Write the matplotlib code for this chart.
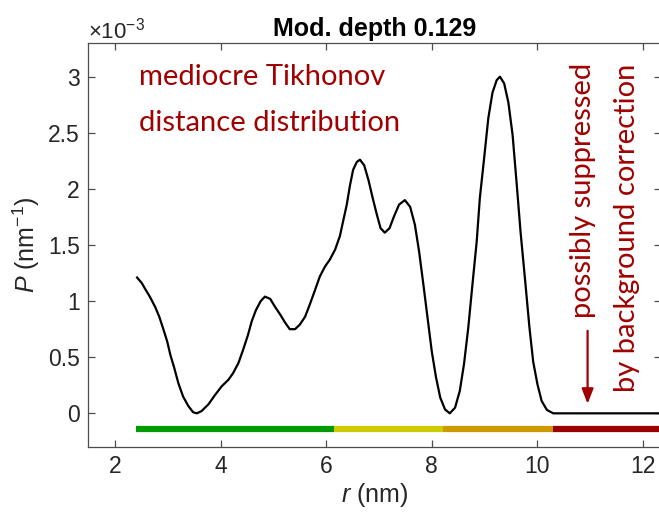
import numpy as np
import matplotlib
matplotlib.use('Agg')
import matplotlib.pyplot as plt

plt.rcParams['mathtext.fontset'] = 'custom'
plt.rcParams['mathtext.rm'] = 'Liberation Sans'
plt.rcParams['mathtext.it'] = 'Liberation Sans:italic'

# distance axis (nm) and Tikhonov distribution P(r), in units of 1e-3 nm^-1
r = [2.42, 2.51, 2.57, 2.66, 2.76, 2.84, 2.91, 2.99, 3.05, 3.12, 3.20, 3.29,
     3.39, 3.48, 3.55, 3.64, 3.77, 3.89, 4.02, 4.15, 4.24, 4.34, 4.43, 4.52,
     4.59, 4.67, 4.76, 4.84, 4.94, 5.03, 5.13, 5.22, 5.31, 5.41, 5.50, 5.60,
     5.69, 5.79, 5.88, 5.98, 6.07, 6.17, 6.26, 6.32, 6.39, 6.45, 6.51, 6.58,
     6.64, 6.72, 6.80, 6.88, 6.96, 7.03, 7.11, 7.20, 7.28, 7.38, 7.49, 7.59,
     7.68, 7.76, 7.84, 7.92, 8.00, 8.08, 8.16, 8.25, 8.34, 8.44, 8.53, 8.61,
     8.69, 8.77, 8.85, 8.91, 8.99, 9.07, 9.15, 9.23, 9.29, 9.37, 9.45, 9.53,
     9.61, 9.68, 9.77, 9.85, 9.92, 10.00, 10.08, 10.18, 10.30, 12.40]
P = [1.21, 1.16, 1.11, 1.04, 0.95, 0.86, 0.76, 0.64, 0.52, 0.41, 0.27, 0.15,
     0.065, 0.01, 0.0, 0.02, 0.08, 0.16, 0.24, 0.30, 0.36, 0.45, 0.57, 0.70,
     0.82, 0.92, 1.00, 1.04, 1.02, 0.95, 0.88, 0.81, 0.75, 0.75, 0.79, 0.86,
     0.97, 1.10, 1.22, 1.31, 1.37, 1.46, 1.58, 1.71, 1.86, 2.03, 2.17, 2.24,
     2.26, 2.21, 2.08, 1.92, 1.77, 1.65, 1.61, 1.65, 1.75, 1.86, 1.90, 1.84,
     1.68, 1.44, 1.15, 0.85, 0.55, 0.32, 0.14, 0.035, 0.0, 0.05, 0.20, 0.44,
     0.76, 1.15, 1.53, 1.92, 2.27, 2.63, 2.86, 2.97, 3.00, 2.94, 2.77, 2.48,
     2.03, 1.62, 1.17, 0.76, 0.46, 0.26, 0.11, 0.03, 0.0, 0.0]

# reliability ranges along the bottom
band_edges = [2.40, 6.15, 8.22, 10.29, 12.40]
band_colors = ['#009900', '#cccc00', '#cc9900', '#990000']
band_y = -0.14

dark_red = '#a00000'

fig = plt.figure(figsize=(6.59, 5.15), dpi=100)
ax = fig.add_axes([88/659, 68/515, 573/659, 404/515])

ax.plot(r, P, color='black', lw=1.6)
for i in range(len(band_colors)):
    ax.plot(band_edges[i:i+2], [band_y, band_y], color=band_colors[i],
            lw=4.5, solid_capstyle='butt')

ax.set_xlim(1.49, 12.34)
ax.set_ylim(-0.3, 3.3)
ax.set_xticks([2, 4, 6, 8, 10, 12])
ax.set_yticks([0, 0.5, 1, 1.5, 2, 2.5, 3])
ax.set_yticklabels(['0', '0.5', '1', '1.5', '2', '2.5', '3'])

for s in ax.spines.values():
    s.set_color('#4d4d4d')
    s.set_linewidth(0.9)
ax.tick_params(direction='in', length=5, width=0.9, color='#4d4d4d',
               top=True, right=True, labelsize=16.5, labelcolor='#262626', pad=6)
for lab in ax.get_xticklabels() + ax.get_yticklabels():
    lab.set_family('Liberation Sans')

ax.set_xlabel('$r$ (nm)', fontsize=18, color='#262626', family='Liberation Sans', labelpad=2)
ax.set_ylabel('$P$ (nm$^{-1}$)', fontsize=18, color='#262626', family='Liberation Sans', labelpad=4)
ax.set_title('Mod. depth 0.129', fontsize=18, fontweight='bold', family='Liberation Sans', pad=5)
ax.text(0, 1.0, '\u00d710$^{-3}$', transform=ax.transAxes, fontsize=16,
        color='#262626', family='Liberation Sans', ha='left', va='bottom')

ax.text(2.45, 2.93, 'mediocre Tikhonov', color=dark_red, fontsize=21, family='Lato', va='baseline')
ax.text(2.45, 2.52, 'distance distribution', color=dark_red, fontsize=21, family='Lato', va='baseline')

ax.annotate('', xy=(10.95, 0.06), xytext=(10.95, 0.76),
            arrowprops=dict(arrowstyle='-|>,head_length=0.9,head_width=0.35', color=dark_red, lw=1.6))
ax.text(10.87, 0.85, 'possibly suppressed', rotation=90, color=dark_red, fontsize=21,
        family='Lato', ha='center', va='bottom')
ax.text(11.70, 0.19, 'by background correction', rotation=90, color=dark_red, fontsize=21,
        family='Lato', ha='center', va='bottom')

fig.savefig('out.png', dpi=100)
